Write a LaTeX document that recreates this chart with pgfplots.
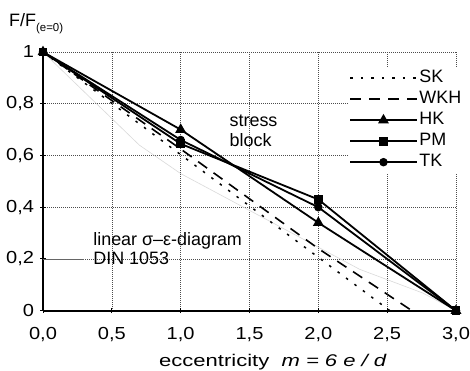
\documentclass[border=0pt]{standalone}
\usepackage{fontspec}
\setmainfont{Liberation Sans}
\newfontfamily\widefont{Liberation Sans}[FakeStretch=1.3]
\newfontfamily\tickfont{Liberation Sans}[FakeStretch=1.15]
\usepackage{pgfplots}
\pgfplotsset{compat=1.18}
\begin{document}
\begin{tikzpicture}
\begin{axis}[
  at={(0,0)}, anchor=south west,
  scale only axis,
  width=413bp, height=258.7bp,
  xmin=0, xmax=3, ymin=0, ymax=1,
  enlargelimits=false,
  axis lines=left,
  axis line style={-, line width=1.6bp, black},
  xtick={0,0.5,1,1.5,2,2.5,3},
  ytick={0,0.2,0.4,0.6,0.8,1},
  tick align=center,
  major tick length=5bp,
  tick style={black, line width=1bp},
  grid=major,
  major grid style={black!70, line width=0.6bp, dash pattern=on 1bp off 1bp},
  /pgf/number format/assume math mode=true,
  ticklabel style={font=\tickfont\fontsize{17.5}{20}\selectfont},
  xticklabel style={yshift=-11bp, /pgf/number format/.cd, fixed, fixed zerofill, precision=1, use comma},
  yticklabel style={xshift=-3bp, /pgf/number format/.cd, fixed, precision=1, use comma},
  clip=false,
  legend style={at={(rel axis cs:0.737,0.94)}, anchor=north west, draw=none, fill=white,
    inner sep=2bp, row sep=4bp,
    font=\fontsize{18}{20}\selectfont,
    nodes={inner sep=1pt, text height=12bp, text depth=3bp}},
  legend cell align=left,
  legend image code/.code={\draw[#1, mark repeat=2, mark phase=2] plot coordinates {(0bp,0bp) (33bp,0bp) (67bp,0bp)};},
]
% faint linear sigma-epsilon curve
\addplot[black!15, line width=0.6bp, forget plot] coordinates {(0,1) (0.7,0.64) (1,0.53) (2.3,0.16) (2.76,0.068) (3,0)};
% leader line
\addplot[black!60, line width=0.6bp, forget plot] coordinates {(0,0.2) (0.3,0.2)};

\addplot[black, line width=1.5bp, dash pattern=on 2.5bp off 8bp] coordinates {(0,1) (2.52,0)};
\addlegendentry{SK}
\addplot[black, line width=1.6bp, dash pattern=on 11bp off 8bp] coordinates {(0,1) (1,0.625) (2,0.24) (2.68,0)};
\addlegendentry{WKH}
\addplot[black, line width=1.8bp, mark=triangle*, mark size=4.5bp] coordinates {(0,1) (1,0.70) (2,0.34) (3,0)};
\addlegendentry{HK}
\addplot[black, line width=1.8bp, mark=square*, mark size=3.5bp] coordinates {(0,1) (1,0.645) (2,0.43) (3,0)};
\addlegendentry{PM}
\addplot[black, line width=1.8bp, mark=*, mark size=3.3bp] coordinates {(0,1) (1,0.66) (2,0.40) (3,0)};
\addlegendentry{TK}

\node[font=\fontsize{18}{21}\selectfont, align=left, anchor=west] at (axis cs:1.33,0.695) {stress\\[-1pt]block};
\node[font=\fontsize{18}{21}\selectfont, align=left, anchor=west] at (axis cs:0.34,0.24) {linear σ–ε-diagram\\[-1pt]DIN 1053};
\end{axis}
\node[anchor=center, font=\widefont\fontsize{17}{20}\selectfont] at (230bp,-51.5bp) {eccentricity\ \ \textit{m = 6 e / d}};
\node[anchor=base west, font=\fontsize{18}{20}\selectfont, inner sep=0pt] at (-34bp,284bp) {F/F\raisebox{-4.5bp}{\fontsize{11.5}{12}\selectfont (e=0)}};
\pgfresetboundingbox
\path (-43bp,-60.3bp) rectangle (427bp,310.7bp);
\end{tikzpicture}
\end{document}
